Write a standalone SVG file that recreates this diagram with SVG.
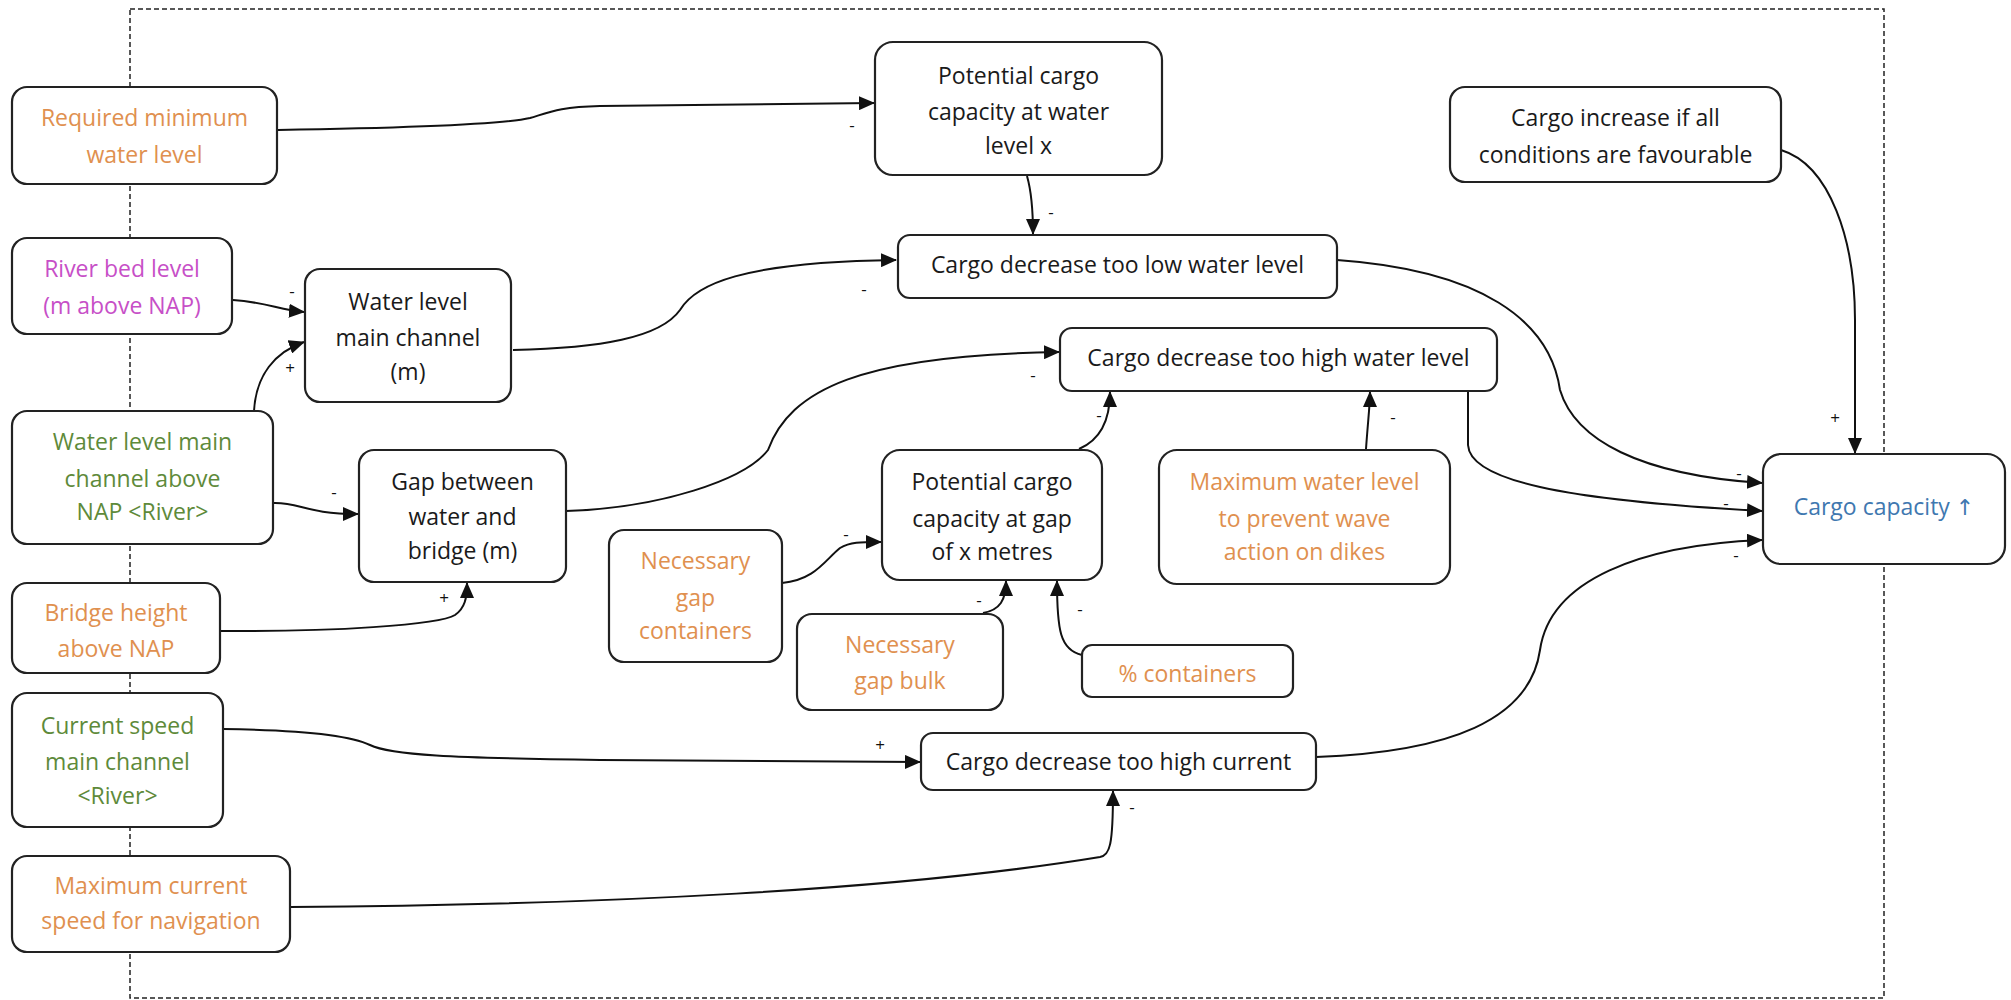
<svg xmlns="http://www.w3.org/2000/svg" width="2011" height="1000" viewBox="0 0 2011 1000">
  <defs>
    <marker id="arrow" markerUnits="userSpaceOnUse" markerWidth="16" markerHeight="14" refX="15" refY="7" orient="auto">
      <path d="M0,0 L16,7 L0,14 z" fill="#111"/>
    </marker>
    <style>
      .frame { fill: none; stroke: #222; stroke-width: 1.5; stroke-dasharray: 5 3; }
      .box { fill: #fff; stroke: #222; stroke-width: 2.2; }
      .edge { fill: none; stroke: #111; stroke-width: 2; marker-end: url(#arrow); }
      text { font-family: "Open Sans", "Noto Sans", "Liberation Sans", sans-serif; font-size: 23px; text-anchor: middle; }
      .blk { fill: #1a1a1a; }
      .org { fill: #E0904F; }
      .grn { fill: #5E8A3A; }
      .mag { fill: #C74FC7; }
      .blu { fill: #3F78B0; }
      .glyph { font-family: "DejaVu Sans", sans-serif; font-size: 22px; }
      .sign { font-size: 17px; fill: #111; }
    </style>
  </defs>

  <!-- dashed model boundary -->
  <rect class="frame" x="130" y="9" width="1754" height="989"/>

  <!-- connectors -->
  <g id="connectors">
    <path class="edge" d="M278,130 C400,128 500,125 530,118 C550,112 560,107 600,106 L874,103"/>
    <path class="edge" d="M1027,176 C1031,190 1033,205 1033,234"/>
    <path class="edge" d="M513,350 C600,348 660,338 680,310 C695,285 740,262 896,260"/>
    <path class="edge" d="M233,300 C265,302 280,310 304,312"/>
    <path class="edge" d="M254,411 C256,375 275,352 304,342"/>
    <path class="edge" d="M273,503 C300,502 305,514 358,514"/>
    <path class="edge" d="M220,631 C330,632 440,625 455,615 C465,608 467,598 467,583"/>
    <path class="edge" d="M566,511 C660,508 745,480 768,450 C790,390 860,355 1059,352"/>
    <path class="edge" d="M1079,449 C1100,440 1110,420 1110,392"/>
    <path class="edge" d="M1366,449 C1368,420 1370,405 1370,392"/>
    <path class="edge" d="M782,583 C815,580 825,560 840,548 C850,542 860,542 881,542"/>
    <path class="edge" d="M983,613 C1000,610 1006,600 1006,581"/>
    <path class="edge" d="M1082,655 C1060,650 1057,630 1057,581"/>
    <path class="edge" d="M223,729 C300,730 350,735 370,745 C390,755 450,758 600,760 L920,762"/>
    <path class="edge" d="M290,907 C600,905 900,890 1100,857 C1110,855 1113,845 1113,791"/>
    <path class="edge" d="M1337,260 C1480,270 1550,320 1560,390 C1575,440 1640,475 1762,483"/>
    <path class="edge" d="M1468,391 L1468,445 C1470,480 1560,500 1762,511"/>
    <path class="edge" d="M1316,757 C1450,752 1530,720 1540,650 C1550,580 1640,545 1762,540"/>
    <path class="edge" d="M1781,150 C1830,165 1855,240 1855,320 L1855,453"/>

    <!-- polarity signs -->
    <text class="sign" x="852" y="131">-</text>
    <text class="sign" x="1051" y="218">-</text>
    <text class="sign" x="864" y="295">-</text>
    <text class="sign" x="292" y="297">-</text>
    <text class="sign" x="290" y="374">+</text>
    <text class="sign" x="334" y="498">-</text>
    <text class="sign" x="444" y="604">+</text>
    <text class="sign" x="1033" y="381">-</text>
    <text class="sign" x="1099" y="421">-</text>
    <text class="sign" x="1393" y="423">-</text>
    <text class="sign" x="846" y="540">-</text>
    <text class="sign" x="979" y="606">-</text>
    <text class="sign" x="1080" y="615">-</text>
    <text class="sign" x="880" y="751">+</text>
    <text class="sign" x="1132" y="813">-</text>
    <text class="sign" x="1739" y="479">-</text>
    <text class="sign" x="1726" y="509">-</text>
    <text class="sign" x="1736" y="561">-</text>
    <text class="sign" x="1835" y="424">+</text>
  </g>

  <!-- nodes -->
  <g id="n-required-min-level">
    <rect class="box" x="12" y="87" width="265" height="97" rx="15"/>
    <text class="org" x="144.5" y="126">Required minimum</text>
    <text class="org" x="144.5" y="163">water level</text>
  </g>
  <g id="n-river-bed">
    <rect class="box" x="12" y="238" width="220" height="96" rx="15"/>
    <text class="mag" x="122" y="277">River bed level</text>
    <text class="mag" x="122" y="314">(m above NAP)</text>
  </g>
  <g id="n-water-level-channel">
    <rect class="box" x="305" y="269" width="206" height="133" rx="15"/>
    <text class="blk" x="408" y="310">Water level</text>
    <text class="blk" x="408" y="346">main channel</text>
    <text class="blk" x="408" y="380">(m)</text>
  </g>
  <g id="n-water-level-nap">
    <rect class="box" x="12" y="411" width="261" height="133" rx="15"/>
    <text class="grn" x="142.5" y="450">Water level main</text>
    <text class="grn" x="142.5" y="487">channel above</text>
    <text class="grn" x="142.5" y="520">NAP &lt;River&gt;</text>
  </g>
  <g id="n-gap-bridge">
    <rect class="box" x="359" y="450" width="207" height="132" rx="15"/>
    <text class="blk" x="462.5" y="490">Gap between</text>
    <text class="blk" x="462.5" y="525">water and</text>
    <text class="blk" x="462.5" y="559">bridge (m)</text>
  </g>
  <g id="n-bridge-height">
    <rect class="box" x="12" y="583" width="208" height="90" rx="15"/>
    <text class="org" x="116" y="621">Bridge height</text>
    <text class="org" x="116" y="657">above NAP</text>
  </g>
  <g id="n-current-speed">
    <rect class="box" x="12" y="693" width="211" height="134" rx="15"/>
    <text class="grn" x="117.5" y="734">Current speed</text>
    <text class="grn" x="117.5" y="770">main channel</text>
    <text class="grn" x="117.5" y="804">&lt;River&gt;</text>
  </g>
  <g id="n-max-current">
    <rect class="box" x="12" y="856" width="278" height="96" rx="15"/>
    <text class="org" x="151" y="894">Maximum current</text>
    <text class="org" x="151" y="929">speed for navigation</text>
  </g>
  <g id="n-potential-water-level">
    <rect class="box" x="875" y="42" width="287" height="133" rx="18"/>
    <text class="blk" x="1018.5" y="84">Potential cargo</text>
    <text class="blk" x="1018.5" y="120">capacity at water</text>
    <text class="blk" x="1018.5" y="154">level x</text>
  </g>
  <g id="n-decrease-low-water">
    <rect class="box" x="898" y="235" width="439" height="63" rx="12"/>
    <text class="blk" x="1117.5" y="273">Cargo decrease too low water level</text>
  </g>
  <g id="n-decrease-high-water">
    <rect class="box" x="1060" y="328" width="437" height="63" rx="12"/>
    <text class="blk" x="1278.5" y="366">Cargo decrease too high water level</text>
  </g>
  <g id="n-potential-gap">
    <rect class="box" x="882" y="450" width="220" height="130" rx="18"/>
    <text class="blk" x="992" y="490">Potential cargo</text>
    <text class="blk" x="992" y="527">capacity at gap</text>
    <text class="blk" x="992" y="560">of x metres</text>
  </g>
  <g id="n-gap-containers">
    <rect class="box" x="609" y="530" width="173" height="132" rx="15"/>
    <text class="org" x="695.5" y="569">Necessary</text>
    <text class="org" x="695.5" y="606">gap</text>
    <text class="org" x="695.5" y="639">containers</text>
  </g>
  <g id="n-gap-bulk">
    <rect class="box" x="797" y="614" width="206" height="96" rx="15"/>
    <text class="org" x="900" y="653">Necessary</text>
    <text class="org" x="900" y="689">gap bulk</text>
  </g>
  <g id="n-pct-containers">
    <rect class="box" x="1082" y="645" width="211" height="52" rx="10"/>
    <text class="org" x="1187.5" y="682">% containers</text>
  </g>
  <g id="n-decrease-high-current">
    <rect class="box" x="921" y="733" width="395" height="57" rx="12"/>
    <text class="blk" x="1118.5" y="770">Cargo decrease too high current</text>
  </g>
  <g id="n-max-water-level">
    <rect class="box" x="1159" y="450" width="291" height="134" rx="18"/>
    <text class="org" x="1304.5" y="490">Maximum water level</text>
    <text class="org" x="1304.5" y="527">to prevent wave</text>
    <text class="org" x="1304.5" y="560">action on dikes</text>
  </g>
  <g id="n-increase-favourable">
    <rect class="box" x="1450" y="87" width="331" height="95" rx="15"/>
    <text class="blk" x="1615.5" y="126">Cargo increase if all</text>
    <text class="blk" x="1615.5" y="163">conditions are favourable</text>
  </g>
  <g id="n-cargo-capacity">
    <rect class="box" x="1763" y="454" width="242" height="110" rx="18"/>
    <text class="blu" x="1884" y="515">Cargo capacity <tspan class="glyph">↑</tspan></text>
  </g>
</svg>
